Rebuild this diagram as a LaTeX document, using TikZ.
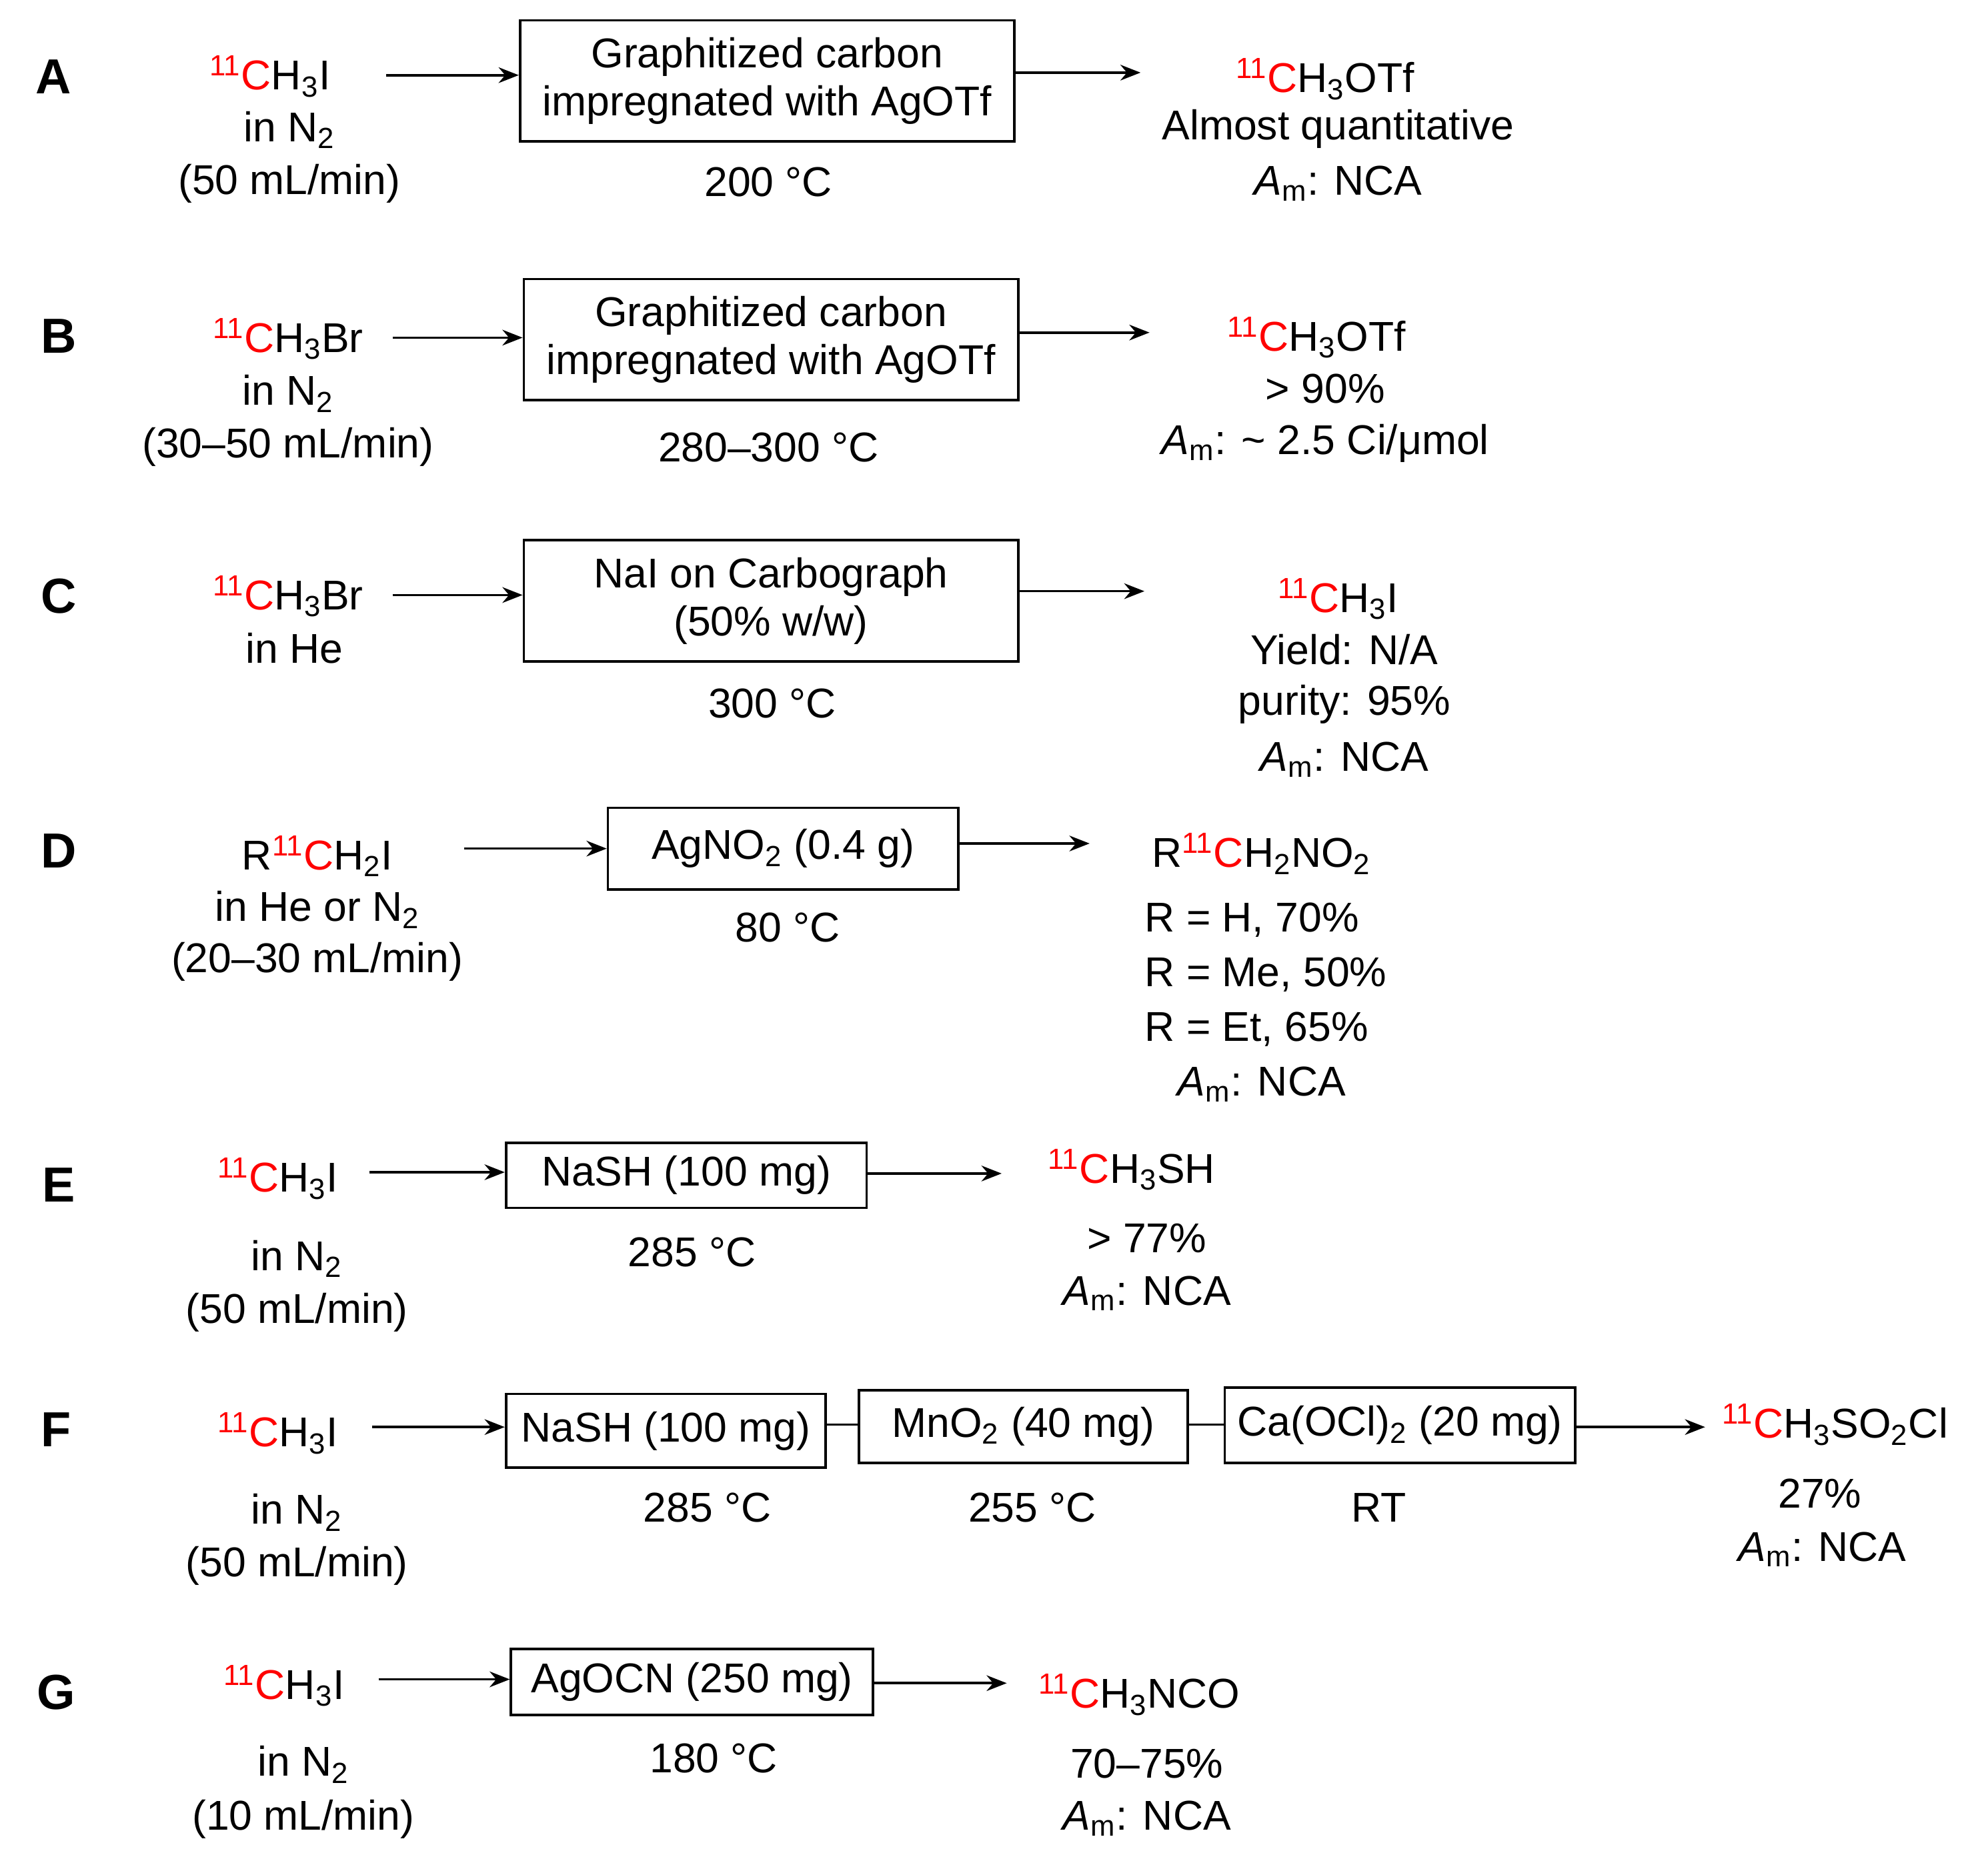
\documentclass[tikz,border=0pt]{standalone}
\usepackage{fontspec}
\setmainfont{Liberation Sans}
\usetikzlibrary{arrows.meta}
\newcommand{\iso}{\textsuperscript{\textcolor{red}{11}}\textcolor{red}{C}}
\newcommand{\sbs}[1]{\textsubscript{#1}}
\newcommand{\Am}{\textit{A}\textsubscript{m}:}
\begin{document}
\begin{tikzpicture}[x=0.02cm,y=-0.02cm,
  every node/.style={font=\fontsize{18.6}{21.5}\selectfont, inner sep=0pt},
  lab/.style={font=\fontsize{22}{24}\selectfont\bfseries},
  box/.style={draw, line width=1.1pt, align=center},
  arr/.style={line width=1.1pt, -{Stealth[length=9pt,width=7pt]}},
  ln/.style={line width=1.1pt}]
\useasboundingbox (0,0) rectangle (1560,1462);
% A
\node[lab] (la) at (42,60) {A};
\node (ra1) at (212,60) {\iso H\sbs{3}I};
\node (ra2) at (227,102) {in N\sbs{2}};
\node (ra3) at (227,144) {(50 mL/min)};
\coordinate (sa) at (303,59);
\node[box, minimum width=7.76cm, minimum height=1.9cm] (ba) at (602,63.5) {Graphitized carbon\\impregnated with AgOTf};
\node (ta) at (603,143) {200 °C};
\coordinate (ea) at (895,57);
\draw[arr] (sa) -- (sa-|ba.west);
\draw[arr] (ea-|ba.east) -- (ea);
\node (pa1) at (1040,62) {\iso H\sbs{3}OTf};
\node (pa2) at (1050,101) {Almost quantitative};
\node (pa3) at (1050,144) {\Am{} NCA};
% B
\node[lab] (lb) at (46,264) {B};
\node (rb1) at (226,266) {\iso H\sbs{3}Br};
\node (rb2) at (226,309) {in N\sbs{2}};
\node (rb3) at (226,351) {(30–50 mL/min)};
\coordinate (sb) at (308,265);
\node[box, minimum width=7.76cm, minimum height=1.9cm] (bb) at (605,266.5) {Graphitized carbon\\impregnated with AgOTf};
\node (tb) at (603,351) {280–300 °C};
\coordinate (eb) at (902,261);
\draw[arr] (sb) -- (sb-|bb.west);
\draw[arr] (eb-|bb.east) -- (eb);
\node (pb1) at (1033,265) {\iso H\sbs{3}OTf};
\node (pb2) at (1040,305) {> 90\%};
\node (pb3) at (1040,348) {\Am{} \textasciitilde{} 2.5 Ci/μmol};
% C
\node[lab] (lc) at (46,468) {C};
\node (rc1) at (226,468) {\iso H\sbs{3}Br};
\node (rc2) at (231,509) {in He};
\coordinate (sc) at (308,467);
\node[box, minimum width=7.76cm, minimum height=1.9cm] (bc) at (605,471.5) {NaI on Carbograph\\(50\% w/w)};
\node (tc) at (606,552) {300 °C};
\coordinate (ec) at (898,464);
\draw[arr] (sc) -- (sc-|bc.west);
\draw[arr] (ec-|bc.east) -- (ec);
\node (pc1) at (1050,470) {\iso H\sbs{3}I};
\node (pc2) at (1055,510) {Yield: N/A};
\node (pc3) at (1055,553) {purity: 95\%};
\node (pc4) at (1055,596) {\Am{} NCA};
% D
\node[lab] (ld) at (46,668) {D};
\node (rd1) at (249,672) {R\iso H\sbs{2}I};
\node (rd2) at (249,714) {in He or N\sbs{2}};
\node (rd3) at (249,755) {(20–30 mL/min)};
\coordinate (sd) at (364,666);
\node[box, minimum width=5.5cm, minimum height=1.28cm] (bd) at (614.5,666) {AgNO\sbs{2} (0.4 g)};
\node (td) at (618,728) {80 °C};
\coordinate (ed) at (855,662);
\draw[arr] (sd) -- (sd-|bd.west);
\draw[arr] (ed-|bd.east) -- (ed);
\node (pd1) at (990,670) {R\iso H\sbs{2}NO\sbs{2}};
\node[anchor=west] (pd2) at (898,722) {R = H, 70\%};
\node[anchor=west] (pd3) at (898,765) {R = Me, 50\%};
\node[anchor=west] (pd4) at (898,808) {R = Et, 65\%};
\node (pd5) at (990,851) {\Am{} NCA};
% E
\node[lab] (le) at (46,930) {E};
\node (re1) at (218,925) {\iso H\sbs{3}I};
\node (re2) at (233,988) {in N\sbs{2}};
\node (re3) at (233,1030) {(50 mL/min)};
\coordinate (se) at (290,920);
\node[box, minimum width=5.66cm, minimum height=1.02cm] (be) at (538.5,922.5) {NaSH (100 mg)};
\node (te) at (543,983) {285 °C};
\coordinate (ee) at (786,921);
\draw[arr] (se) -- (se-|be.west);
\draw[arr] (ee-|be.east) -- (ee);
\node (pe1) at (888,918) {\iso H\sbs{3}SH};
\node (pe2) at (900,972) {> 77\%};
\node (pe3) at (900,1015) {\Am{} NCA};
% F
\node[lab] (lf) at (44,1122) {F};
\node (rf1) at (218,1125) {\iso H\sbs{3}I};
\node (rf2) at (233,1187) {in N\sbs{2}};
\node (rf3) at (233,1229) {(50 mL/min)};
\coordinate (sf) at (292,1120);
\node[box, minimum width=5.02cm, minimum height=1.16cm] (bf1) at (522.5,1123) {NaSH (100 mg)};
\node[box, minimum width=5.16cm, minimum height=1.14cm] (bf2) at (803,1119.5) {MnO\sbs{2} (40 mg)};
\node[box, minimum width=5.5cm, minimum height=1.18cm] (bf3) at (1098.5,1118.5) {Ca(OCl)\sbs{2} (20 mg)};
\coordinate (ef) at (1338,1120);
\draw[arr] (sf) -- (sf-|bf1.west);
\draw[ln] (bf1.east|-0,1118) -- (bf2.west|-0,1118);
\draw[ln] (bf2.east|-0,1118) -- (bf3.west|-0,1118);
\draw[arr] (ef-|bf3.east) -- (ef);
\node (tf1) at (555,1183) {285 °C};
\node (tf2) at (810,1183) {255 °C};
\node (tf3) at (1082,1183) {RT};
\node (pf1) at (1440,1118) {\iso H\sbs{3}SO\sbs{2}Cl};
\node (pf2) at (1428,1172) {27\%};
\node (pf3) at (1430,1216) {\Am{} NCA};
% G
\node[lab] (lg) at (44,1328) {G};
\node (rg1) at (223,1323) {\iso H\sbs{3}I};
\node (rg2) at (238,1385) {in N\sbs{2}};
\node (rg3) at (238,1428) {(10 mL/min)};
\coordinate (sg) at (297,1318);
\node[box, minimum width=5.68cm, minimum height=1.04cm] (bg) at (543,1320) {AgOCN (250 mg)};
\node (tg) at (560,1380) {180 °C};
\coordinate (eg) at (790,1321);
\draw[arr] (sg) -- (sg-|bg.west);
\draw[arr] (eg-|bg.east) -- (eg);
\node (pg1) at (894,1330) {\iso H\sbs{3}NCO};
\node (pg2) at (900,1384) {70–75\%};
\node (pg3) at (900,1427) {\Am{} NCA};
\end{tikzpicture}
\end{document}
